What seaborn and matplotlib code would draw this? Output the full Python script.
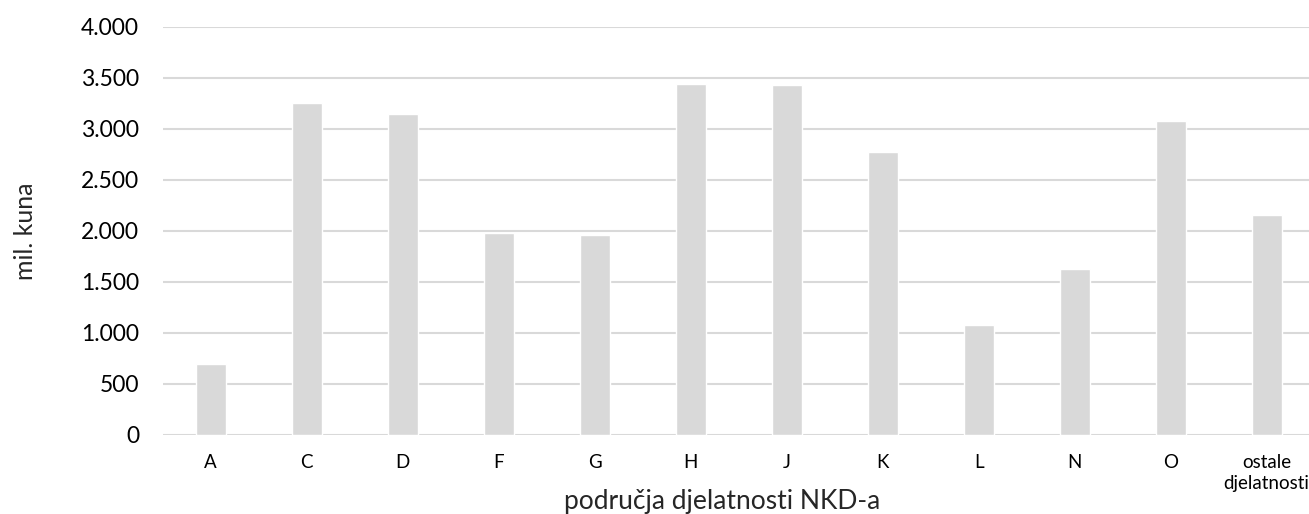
import matplotlib
matplotlib.use('Agg')
import matplotlib.pyplot as plt
import matplotlib.ticker as mticker
import seaborn as sns
import pandas as pd

# ── Data ─────────────────────────────────────────────────────────────
categories = ['A', 'C', 'D', 'F', 'G', 'H', 'J', 'K', 'L', 'N', 'O',
              'ostale\ndjelatnosti']
values = [696, 3255, 3144, 1980, 1961, 3441, 3428, 2775, 1078, 1624, 3075, 2153]
y_ticks = [0, 500, 1000, 1500, 2000, 2500, 3000, 3500, 4000]

df = pd.DataFrame({'kat': categories, 'vrijednost': values})

sns.set_style('white')
plt.rcParams['font.family'] = ['Lato', 'DejaVu Sans']

fig = plt.figure(figsize=(13.09, 5.14), dpi=100)
ax = fig.add_axes([0.1243, 0.1537, 0.880, 0.794])

sns.barplot(data=df, x='kat', y='vrijednost', color='#d9d9d9',
            width=0.31, saturation=1, ax=ax, zorder=2)

ax.set_ylim(0, 4000)
ax.set_xlim(-0.5, len(categories) - 0.5)
ax.set_yticks(y_ticks)
ax.yaxis.set_major_formatter(
    mticker.FuncFormatter(lambda v, p: f'{int(v):,}'.replace(',', '.')))
ax.grid(axis='y', color='#d9d9d9', linewidth=1.5, zorder=0)
ax.set_axisbelow(True)
for s in ax.spines.values():
    s.set_visible(False)
ax.tick_params(axis='both', length=0)
ax.tick_params(axis='y', labelsize=16.5, pad=17, colors='#000000')
ax.tick_params(axis='x', labelsize=13.5, pad=14, colors='#000000')
for lbl in ax.get_xticklabels():
    lbl.set_linespacing(1.25)
    lbl.set_verticalalignment('top')

ax.set_ylabel('mil. kuna', fontsize=18)
ax.yaxis.set_label_coords(-0.109, 0.5)
ax.set_xlabel('područja djelatnosti NKD-a', fontsize=19)
ax.xaxis.set_label_coords(0.486, -0.163)
ax.xaxis.label.set_verticalalignment('center')

fig.savefig('out.png', dpi=100)
